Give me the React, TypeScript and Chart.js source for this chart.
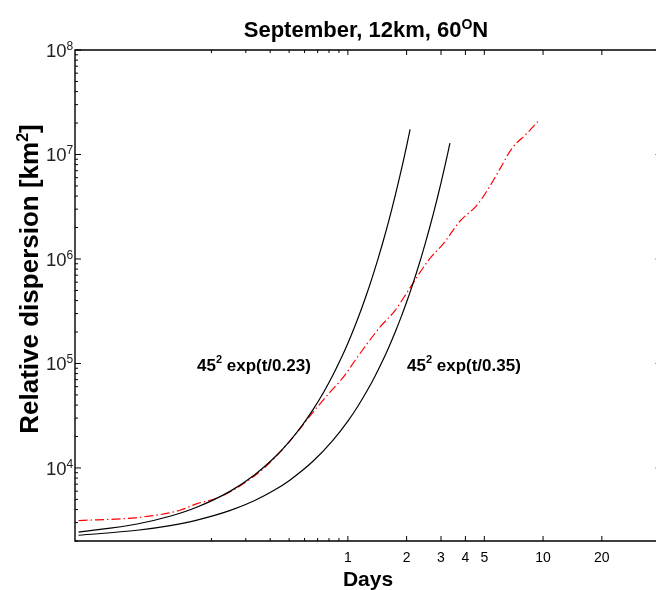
import React, { useEffect, useRef } from "react";
import { Chart, registerables } from "chart.js";

Chart.register(...registerables);

// ---- data (days, relative dispersion km^2) ----
const daysFitA = [0.0417, 0.0833, 0.125, 0.1667, 0.25, 0.3333, 0.4167, 0.5, 0.5833, 0.6667, 0.75, 0.8333, 0.9167, 1.0, 1.0833, 1.1667, 1.25, 1.3333, 1.4167, 1.5, 1.5833, 1.6667, 1.75, 1.8333, 1.9167, 2.0, 2.0833];
const valuesFitA = [2427, 2909, 3486, 4180, 6003, 8627, 12390, 17810, 25590, 36750, 52790, 75830, 108900, 156500, 224800, 323100, 464200, 666800, 957900, 1376000, 1977000, 2841000, 4081000, 5864000, 8424000, 12100000, 17370000];

const daysFitB = [0.0417, 0.0833, 0.125, 0.1667, 0.25, 0.3333, 0.4167, 0.5, 0.6667, 0.8333, 1.0, 1.125, 1.25, 1.375, 1.5, 1.625, 1.75, 1.875, 2.0, 2.125, 2.25, 2.375, 2.5, 2.625, 2.75, 2.875, 3.0, 3.125, 3.25, 3.333];
const valuesFitB = [2270, 2533, 2825, 3151, 3922, 4881, 6075, 7558, 11710, 18140, 28090, 38990, 54130, 75150, 104300, 144800, 201100, 279200, 387700, 538200, 747200, 1037000, 1440000, 2000000, 2777000, 3855000, 5352000, 7431000, 10320000, 12840000];

const daysObs = [0.0417, 0.0833, 0.138, 0.169, 0.197, 0.24, 0.292, 0.37, 0.45, 0.55, 0.654, 0.812, 0.95, 1.09, 1.275, 1.463, 1.747, 2.043, 2.586, 3.087, 3.758, 4.576, 5.248, 6.024, 6.914, 8.252, 9.461];
const valuesObs = [3140, 3353, 3937, 4564, 4909, 5689, 7091, 9870, 14230, 22000, 33160, 53370, 74270, 107300, 160600, 223600, 322900, 501700, 971800, 1404000, 2310000, 3265000, 4717000, 7330000, 11390000, 15850000, 20930000];

const xMajorTicks = [1, 2, 3, 4, 5, 10, 20];
const xMinorTicks = [0.2, 0.3, 0.4, 0.5, 0.6, 0.7, 0.8, 0.9];
const yMajorExponents = [4, 5, 6, 7, 8];
const yMinorExponents = [3, 4, 5, 6, 7];

const titleMain = "September, 12km, 60";
const titleSup = "O";
const titleEnd = "N";
const labelA = "exp(t/0.23)";
const labelB = "exp(t/0.35)";

const FONT = '"Liberation Sans", Arial, Helvetica, sans-serif';

type Seg = { t: string; sup?: boolean };

function drawRich(
  ctx: CanvasRenderingContext2D,
  segs: Seg[],
  x: number,
  y: number,
  align: "left" | "center" | "right",
  font: string,
  supFont: string,
  rise: number
) {
  ctx.textBaseline = "alphabetic";
  ctx.textAlign = "left";
  const widths = segs.map((s) => {
    ctx.font = s.sup ? supFont : font;
    return ctx.measureText(s.t).width;
  });
  const total = widths.reduce((a, b) => a + b, 0);
  let cx = align === "left" ? x : align === "center" ? x - total / 2 : x - total;
  segs.forEach((s, i) => {
    ctx.font = s.sup ? supFont : font;
    ctx.fillText(s.t, cx, s.sup ? y - rise : y);
    cx += widths[i];
  });
}

const framePlugin = {
  id: "framePlugin",
  afterDatasetsDraw(chart: any) {
    const ctx: CanvasRenderingContext2D = chart.ctx;
    const { left, right, top, bottom } = chart.chartArea;
    const xs = chart.scales.x;
    const ys = chart.scales.y;
    const line = (x1: number, y1: number, x2: number, y2: number) => {
      ctx.beginPath();
      ctx.moveTo(x1, y1);
      ctx.lineTo(x2, y2);
      ctx.stroke();
    };
    ctx.save();
    ctx.strokeStyle = "#000";
    ctx.lineWidth = 1.4;
    ctx.beginPath();
    ctx.rect(left, top, right - left, bottom - top);
    ctx.stroke();

    ctx.lineWidth = 1;
    for (const v of xMinorTicks) {
      const px = xs.getPixelForValue(v);
      line(px, bottom, px, bottom - 3);
      line(px, top, px, top + 3);
    }
    for (const v of xMajorTicks) {
      const px = xs.getPixelForValue(v);
      line(px, bottom, px, bottom - 5);
      line(px, top, px, top + 5);
    }
    const yMin = ys.min;
    const yMax = ys.max;
    for (const e of yMinorExponents) {
      for (let m = 2; m <= 9; m++) {
        const v = m * Math.pow(10, e);
        if (v < yMin || v > yMax) continue;
        const py = ys.getPixelForValue(v);
        line(left, py, left + 3, py);
      }
    }
    for (const e of yMajorExponents) {
      const py = ys.getPixelForValue(Math.pow(10, e));
      line(left, py, left + 6, py);
      line(right, py, right - 5, py);
    }

    // tick labels
    ctx.fillStyle = "#000";
    ctx.textAlign = "center";
    ctx.textBaseline = "alphabetic";
    ctx.font = `14px ${FONT}`;
    for (const v of xMajorTicks) {
      const px = xs.getPixelForValue(v);
      ctx.fillText(String(v), px, bottom + 21);
    }
    ctx.fillStyle = "#222";
    for (const e of yMajorExponents) {
      const py = ys.getPixelForValue(Math.pow(10, e));
      drawRich(ctx, [{ t: "10" }, { t: String(e), sup: true }], 46, py + 7, "left", `18.5px ${FONT}`, `12px ${FONT}`, 7);
    }

    // title
    ctx.fillStyle = "#000";
    drawRich(
      ctx,
      [{ t: titleMain }, { t: titleSup, sup: true }, { t: titleEnd }],
      366,
      37,
      "center",
      `bold 22px ${FONT}`,
      `bold 14px ${FONT}`,
      8
    );
    // x axis title
    ctx.font = `bold 21px ${FONT}`;
    ctx.textAlign = "center";
    ctx.fillText("Days", 368, 586);
    // y axis title
    ctx.save();
    ctx.translate(38, 279);
    ctx.rotate(-Math.PI / 2);
    drawRich(
      ctx,
      [{ t: "Relative dispersion [km" }, { t: "2", sup: true }, { t: "]" }],
      0,
      0,
      "center",
      `bold 26px ${FONT}`,
      `bold 16px ${FONT}`,
      10
    );
    ctx.restore();
    // annotations
    drawRich(ctx, [{ t: "45" }, { t: "2", sup: true }, { t: " " + labelA }], 197, 371, "left", `bold 17px ${FONT}`, `bold 11px ${FONT}`, 8);
    drawRich(ctx, [{ t: "45" }, { t: "2", sup: true }, { t: " " + labelB }], 407, 371, "left", `bold 17px ${FONT}`, `bold 11px ${FONT}`, 8);
    ctx.restore();
  },
};

export default function App() {
  const ref = useRef<HTMLCanvasElement | null>(null);
  useEffect(() => {
    if (!ref.current) return;
    const toPts = (xs: number[], ys: number[]) => xs.map((x, i) => ({ x, y: ys[i] }));
    const chart = new Chart(ref.current, {
      type: "line",
      data: {
        datasets: [
          {
            label: "45^2 exp(t/0.23)",
            data: toPts(daysFitA, valuesFitA),
            borderColor: "#000",
            borderWidth: 1.2,
            pointRadius: 0,
            fill: false,
            cubicInterpolationMode: "monotone",
          },
          {
            label: "45^2 exp(t/0.35)",
            data: toPts(daysFitB, valuesFitB),
            borderColor: "#000",
            borderWidth: 1.2,
            pointRadius: 0,
            fill: false,
            cubicInterpolationMode: "monotone",
          },
          {
            label: "observed",
            data: toPts(daysObs, valuesObs),
            borderColor: "#ff0000",
            borderWidth: 1.2,
            borderDash: [9, 3, 1.5, 3],
            pointRadius: 0,
            fill: false,
            cubicInterpolationMode: "monotone",
          },
        ],
      },
      options: {
        responsive: false,
        animation: false,
        devicePixelRatio: 1,
        layout: { padding: { left: 75, top: 50, right: 1.4, bottom: 49 } },
        plugins: { legend: { display: false }, tooltip: { enabled: false }, title: { display: false } },
        scales: {
          x: { type: "logarithmic", min: 0.04, max: 40, display: false },
          y: { type: "logarithmic", min: 2000, max: 1e8, display: false },
        },
      },
      plugins: [framePlugin],
    });
    return () => chart.destroy();
  }, []);
  return (
    <div style={{ position: "absolute", left: 0, top: 0, width: 656, height: 590, overflow: "hidden", background: "#fff" }}>
      <canvas ref={ref} width={662} height={590} style={{ display: "block" }} />
    </div>
  );
}
